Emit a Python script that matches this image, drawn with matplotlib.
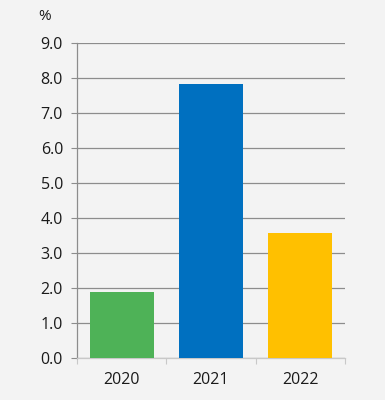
import matplotlib.pyplot as plt
import numpy as np

plt.rcParams["font.family"] = ["Open Sans", "DejaVu Sans"]

# data
years = ["2020", "2021", "2022"]
values = [1.89, 7.83, 3.57]
colors = ["#4eb257", "#0070c0", "#ffc000"]
yticks = np.arange(0, 9.01, 1.0)

bg = "#f3f3f3"
fig = plt.figure(figsize=(3.85, 4.0), dpi=100, facecolor=bg)
ax = fig.add_axes([0.2, 0.105, 0.696, 0.7875], facecolor=bg)

x = np.arange(len(years))
ax.bar(x, values, width=0.72, color=colors, zorder=3)

ax.set_xlim(-0.5, len(years) - 0.5)
ax.set_ylim(0, 9)
ax.set_yticks(yticks)
ax.set_yticklabels([f"{v:.1f}" for v in yticks], fontsize=11.5, color="#1a1a1a")
ax.yaxis.grid(True, color="#8c8c8c", lw=0.9, zorder=0)

# category labels centered, tick marks at boundaries
ax.set_xticks(x)
ax.set_xticklabels(years, fontsize=11.5, color="#1a1a1a")
ax.tick_params(axis="x", length=0, pad=10)
ax.set_xticks(np.arange(-0.5, len(years) + 0.5, 1.0), minor=True)
ax.tick_params(axis="x", which="minor", length=4, color="#c8c8c8", width=0.8)
ax.tick_params(axis="y", length=4, color="#8c8c8c", width=0.8, pad=6)

for s in ["top", "right"]:
    ax.spines[s].set_visible(False)
ax.spines["left"].set_color("#8c8c8c")
ax.spines["left"].set_linewidth(0.9)
ax.spines["bottom"].set_color("#c8c8c8")
ax.spines["bottom"].set_linewidth(0.9)

fig.text(0.1, 0.96, "%", fontsize=11, color="#1a1a1a", ha="left", va="center")

fig.savefig("out.png", dpi=100, facecolor=bg)
